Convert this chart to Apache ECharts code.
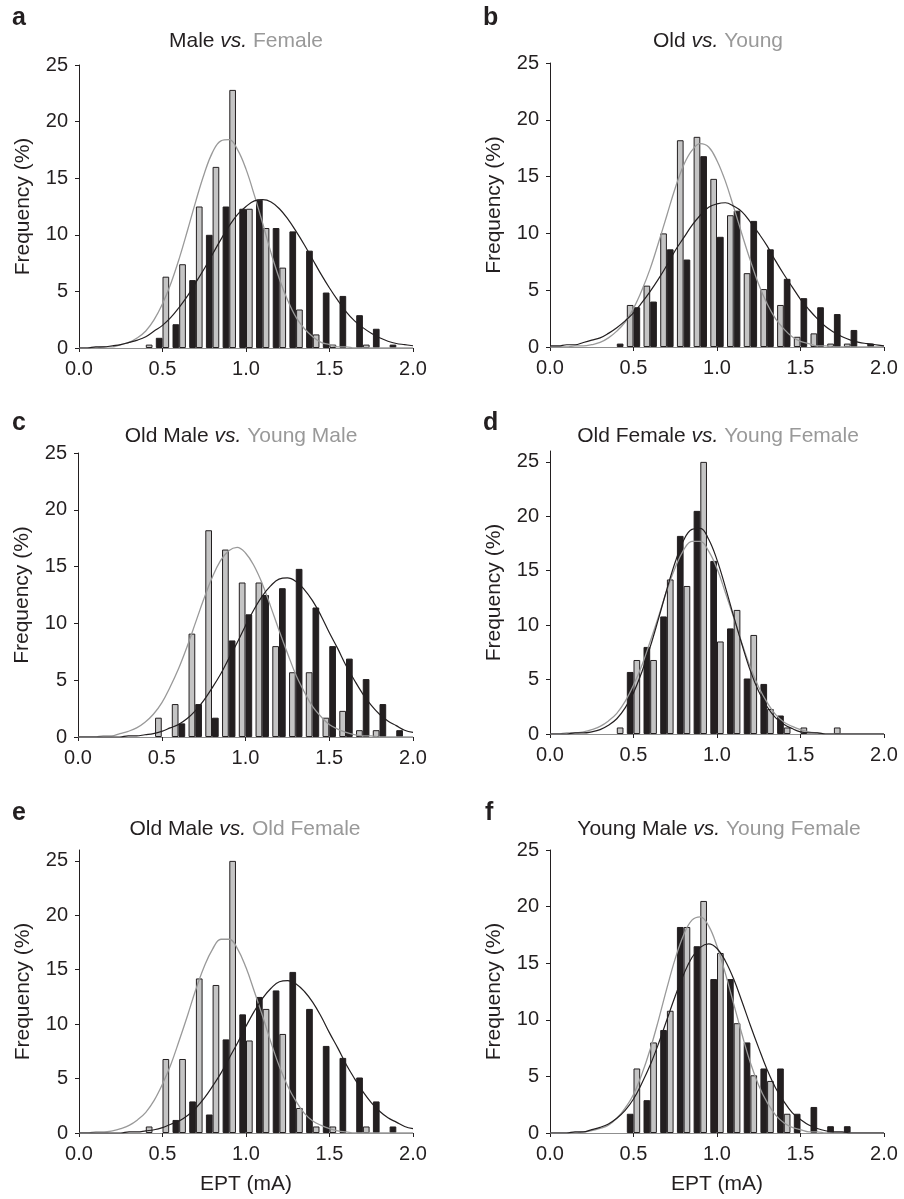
<!DOCTYPE html>
<html>
<head>
<meta charset="utf-8">
<title>EPT frequency distributions</title>
<script src="https://cdn.jsdelivr.net/npm/echarts@6/dist/echarts.min.js"></script>
<style>
  html, body { margin: 0; padding: 0; background: #ffffff; }
  #main { width: 904px; height: 1199px; }
</style>
</head>
<body>
<div id="main"></div>
<script>
// histogram bins, 0.1 mA wide (frequency in %)
const categories = ['0.0', '0.1', '0.2', '0.3', '0.4', '0.5', '0.6', '0.7', '0.8', '0.9', '1.0',
  '1.1', '1.2', '1.3', '1.4', '1.5', '1.6', '1.7', '1.8', '1.9', '2.0'];

const aBlack = [0, 0, 0, 0, 0, 0.9, 2.1, 6.0, 10.0, 12.5, 12.3, 13.1, 10.6, 10.3, 8.6, 4.9, 4.6, 2.9, 1.7, 0.3, 0];
const aGray = [0, 0, 0, 0, 0.3, 6.3, 7.4, 12.5, 16.0, 22.8, 12.3, 10.6, 7.1, 3.4, 1.2, 0.3, 0, 0.3, 0, 0, 0];
const bGray = [0, 0, 0, 0, 0, 3.7, 5.4, 10.0, 18.2, 18.5, 14.8, 11.6, 6.5, 5.1, 3.7, 0.9, 1.2, 0.3, 0.3, 0, 0];
const bBlack = [0, 0, 0, 0, 0.3, 3.5, 4.0, 8.6, 7.7, 16.8, 9.7, 12.0, 11.1, 8.6, 6.0, 4.3, 3.5, 2.9, 1.5, 0.3, 0];
const cGray = [0, 0, 0, 0, 0, 1.7, 2.9, 9.1, 18.2, 16.5, 13.6, 13.6, 8.0, 5.7, 5.7, 1.7, 2.3, 0.6, 0.6, 0, 0];
const cBlack = [0, 0, 0, 0, 0, 0, 1.2, 2.9, 1.7, 8.5, 10.8, 12.5, 13.1, 14.8, 11.4, 8.0, 6.9, 5.1, 2.9, 0.6, 0];
const dBlack = [0, 0, 0, 0, 0, 5.7, 8.0, 10.8, 18.2, 20.5, 15.9, 9.7, 5.1, 4.6, 1.7, 0, 0, 0, 0, 0, 0];
const dGray = [0, 0, 0, 0, 0.6, 6.8, 6.8, 14.2, 13.6, 25.0, 8.5, 11.4, 9.1, 2.3, 0.6, 0.6, 0, 0.6, 0, 0, 0];
const eBlack = [0, 0, 0, 0, 0, 0, 1.2, 2.9, 1.7, 8.6, 10.9, 12.5, 13.1, 14.8, 11.4, 8.0, 6.9, 5.1, 2.9, 0.6, 0];
const eGray = [0, 0, 0, 0, 0.6, 6.8, 6.8, 14.2, 13.6, 25.0, 8.5, 11.4, 9.1, 2.3, 0.6, 0.6, 0, 0.6, 0, 0, 0];
const fBlack = [0, 0, 0, 0, 0, 1.7, 2.9, 9.1, 18.2, 16.5, 13.6, 13.6, 8.0, 5.7, 5.7, 1.7, 2.3, 0.6, 0.6, 0, 0];
const fGray = [0, 0, 0, 0, 0, 5.7, 8.0, 10.8, 18.2, 20.5, 15.9, 9.7, 5.1, 4.6, 1.7, 0, 0, 0, 0, 0, 0];

// fitted curves, every 0.05 mA
const curveX = [0, 0.05, 0.1, 0.15, 0.2, 0.25, 0.3, 0.35, 0.4, 0.45, 0.5, 0.55, 0.6, 0.65, 0.7, 0.75,
  0.8, 0.85, 0.9, 0.95, 1.0, 1.05, 1.1, 1.15, 1.2, 1.25, 1.3, 1.35, 1.4, 1.45, 1.5, 1.55, 1.6, 1.65,
  1.7, 1.75, 1.8, 1.85, 1.9, 1.95, 2.0];

const aGrayCurve = [0, 0, 0, 0.1, 0.1, 0.3, 0.5, 0.9, 1.5, 2.5, 3.9, 5.7, 7.9, 10.4, 13.0, 15.4, 17.3, 18.3,
  18.4, 17.5, 15.8, 13.5, 11.0, 8.4, 6.1, 4.2, 2.7, 1.7, 1.0, 0.5, 0.3, 0.1, 0.1, 0, 0, 0, 0, 0, 0, 0, 0];
const aBlackCurve = [0, 0, 0.1, 0.1, 0.2, 0.3, 0.5, 0.7, 1.0, 1.5, 2.0, 2.7, 3.6, 4.6, 5.8, 7.0, 8.3, 9.6,
  10.8, 11.8, 12.5, 13.0, 13.1, 12.9, 12.3, 11.4, 10.3, 9.1, 7.8, 6.5, 5.3, 4.2, 3.2, 2.4, 1.8, 1.3, 0.9,
  0.6, 0.4, 0.3, 0.2];
const bGrayCurve = [0, 0, 0, 0.1, 0.1, 0.2, 0.4, 0.8, 1.4, 2.2, 3.4, 5.0, 6.9, 9.2, 11.6, 14.0, 16.0, 17.3,
  17.9, 17.6, 16.4, 14.6, 12.3, 9.9, 7.6, 5.5, 3.8, 2.5, 1.6, 0.9, 0.5, 0.3, 0.1, 0.1, 0, 0, 0, 0, 0, 0, 0];
const bBlackCurve = [0.1, 0.1, 0.2, 0.2, 0.4, 0.6, 0.8, 1.2, 1.7, 2.3, 3.0, 3.9, 4.9, 6.0, 7.2, 8.5, 9.6,
  10.7, 11.6, 12.3, 12.6, 12.7, 12.4, 11.9, 11.0, 10.0, 8.9, 7.6, 6.4, 5.3, 4.2, 3.3, 2.5, 1.8, 1.3, 0.9,
  0.6, 0.4, 0.3, 0.2, 0.1];
const cGrayCurve = [0, 0, 0, 0.1, 0.1, 0.3, 0.5, 0.8, 1.3, 2.0, 3.0, 4.4, 6.0, 7.9, 10.0, 12.1, 14.0, 15.5,
  16.4, 16.7, 16.2, 15.1, 13.5, 11.5, 9.4, 7.4, 5.5, 4.0, 2.7, 1.8, 1.1, 0.7, 0.4, 0.2, 0.1, 0.1, 0, 0, 0, 0, 0];
const cBlackCurve = [0, 0, 0, 0, 0, 0, 0.1, 0.1, 0.2, 0.3, 0.5, 0.8, 1.1, 1.6, 2.3, 3.2, 4.3, 5.5, 6.9, 8.3,
  9.8, 11.2, 12.4, 13.3, 13.9, 14.0, 13.7, 13.0, 12.0, 10.7, 9.2, 7.8, 6.3, 5.0, 3.8, 2.8, 2.0, 1.4, 1.0,
  0.6, 0.4];
const dBlackCurve = [0, 0, 0, 0.1, 0.1, 0.2, 0.4, 0.8, 1.4, 2.4, 3.8, 5.7, 8.0, 10.6, 13.3, 15.8, 17.8, 18.8,
  18.9, 17.9, 16.0, 13.5, 10.8, 8.2, 5.8, 3.9, 2.5, 1.5, 0.9, 0.5, 0.2, 0.1, 0.1, 0, 0, 0, 0, 0, 0, 0, 0];
const dGrayCurve = [0, 0, 0.1, 0.1, 0.2, 0.4, 0.7, 1.2, 1.9, 3.0, 4.5, 6.3, 8.5, 10.8, 13.2, 15.3, 16.9, 17.7,
  17.7, 16.8, 15.2, 13.0, 10.7, 8.3, 6.1, 4.3, 2.9, 1.8, 1.1, 0.7, 0.4, 0.2, 0.1, 0, 0, 0, 0, 0, 0, 0, 0];
const eGrayCurve = [0, 0, 0.1, 0.1, 0.2, 0.4, 0.7, 1.2, 1.9, 3.0, 4.5, 6.3, 8.5, 10.8, 13.2, 15.3, 16.9, 17.8,
  17.8, 16.9, 15.2, 13.0, 10.7, 8.3, 6.1, 4.3, 2.9, 1.8, 1.1, 0.7, 0.4, 0.2, 0.1, 0, 0, 0, 0, 0, 0, 0, 0];
const eBlackCurve = [0, 0, 0, 0, 0, 0, 0.1, 0.1, 0.2, 0.3, 0.5, 0.8, 1.1, 1.6, 2.3, 3.2, 4.3, 5.5, 6.9, 8.3,
  9.8, 11.2, 12.4, 13.3, 13.9, 14.0, 13.7, 13.0, 12.0, 10.7, 9.2, 7.8, 6.3, 5.0, 3.8, 2.8, 2.0, 1.4, 1.0,
  0.6, 0.4];
const fGrayCurve = [0, 0, 0, 0, 0.1, 0.2, 0.4, 0.7, 1.3, 2.2, 3.4, 5.2, 7.4, 10.0, 12.8, 15.4, 17.5, 18.8,
  19.1, 18.3, 16.5, 14.1, 11.4, 8.7, 6.2, 4.2, 2.7, 1.6, 0.9, 0.5, 0.3, 0.1, 0.1, 0, 0, 0, 0, 0, 0, 0, 0];
const fBlackCurve = [0, 0, 0, 0.1, 0.1, 0.3, 0.5, 0.8, 1.3, 2.0, 3.0, 4.4, 6.0, 7.9, 10.0, 12.1, 14.0, 15.5,
  16.4, 16.7, 16.3, 15.2, 13.6, 11.6, 9.5, 7.5, 5.6, 4.0, 2.8, 1.8, 1.2, 0.7, 0.4, 0.2, 0.1, 0.1, 0, 0, 0, 0, 0];

const yTicks = [0, 5, 10, 15, 20, 25];

const FONT = '"Liberation Sans", Arial, Helvetica, sans-serif';
const DARK = '#231f20';
const GRAY_FILL = '#c4c4c4';
const GRAY_LINE = '#999999';

// one entry per panel; grayFirst = grey bar on the left of each pair
const panels = [
  {letter: 'a', dark: 'Male', light: 'Female', grid: {left: 79, top: 65, width: 334, height: 283}, yMax: 25,
    black: aBlack, gray: aGray, blackCurve: aBlackCurve, grayCurve: aGrayCurve, grayFirst: false,
    titleX: 246, titleY: 41, letterX: 12, letterY: 18, xName: ''},
  {letter: 'b', dark: 'Old', light: 'Young', grid: {left: 550, top: 63, width: 334, height: 284}, yMax: 25,
    black: bBlack, gray: bGray, blackCurve: bBlackCurve, grayCurve: bGrayCurve, grayFirst: true,
    titleX: 718, titleY: 41, letterX: 483, letterY: 18, xName: ''},
  {letter: 'c', dark: 'Old Male', light: 'Young Male', grid: {left: 78, top: 453, width: 335, height: 284}, yMax: 25,
    black: cBlack, gray: cGray, blackCurve: cBlackCurve, grayCurve: cGrayCurve, grayFirst: true,
    titleX: 241, titleY: 436, letterX: 12, letterY: 423, xName: ''},
  {letter: 'd', dark: 'Old Female', light: 'Young Female', grid: {left: 550, top: 451, width: 334, height: 283}, yMax: 26,
    black: dBlack, gray: dGray, blackCurve: dBlackCurve, grayCurve: dGrayCurve, grayFirst: false,
    titleX: 718, titleY: 436, letterX: 483, letterY: 423, xName: ''},
  {letter: 'e', dark: 'Old Male', light: 'Old Female', grid: {left: 79, top: 850, width: 334, height: 283}, yMax: 26,
    black: eBlack, gray: eGray, blackCurve: eBlackCurve, grayCurve: eGrayCurve, grayFirst: false,
    titleX: 245, titleY: 829, letterX: 12, letterY: 813, xName: 'EPT (mA)'},
  {letter: 'f', dark: 'Young Male', light: 'Young Female', grid: {left: 550, top: 850, width: 334, height: 283}, yMax: 25,
    black: fBlack, gray: fGray, blackCurve: fBlackCurve, grayCurve: fGrayCurve, grayFirst: false,
    titleX: 719, titleY: 829, letterX: 485, letterY: 813, xName: 'EPT (mA)'}
];

const grids = [];
const xAxes = [];
const yAxes = [];
const series = [];
const graphics = [];

panels.forEach((p, i) => {
  grids.push(Object.assign({outerBoundsMode: 'none'}, p.grid));

  // hidden category axis carries the bars
  xAxes.push({
    type: 'category', gridIndex: i, data: categories, boundaryGap: false, position: 'top', show: false
  });
  // visible value axis, also used by the curves
  xAxes.push({
    type: 'value', gridIndex: i, min: 0, max: 2, interval: 0.5, position: 'bottom',
    axisLine: {show: true, onZero: false, lineStyle: {color: '#8f8f8f', width: 1}},
    axisTick: {show: true, length: 4, lineStyle: {color: DARK, width: 1}},
    axisLabel: {margin: 11, color: DARK, fontSize: 20, fontFamily: FONT, formatter: v => v.toFixed(1)},
    splitLine: {show: false},
    name: p.xName, nameLocation: 'middle', nameGap: 41,
    nameTextStyle: {color: DARK, fontSize: 21, fontFamily: FONT}
  });
  yAxes.push({
    type: 'value', gridIndex: i, min: 0, max: p.yMax,
    axisLine: {show: true, lineStyle: {color: DARK, width: 1}},
    axisTick: {show: true, length: 4, customValues: yTicks, lineStyle: {color: DARK, width: 1}},
    axisLabel: {margin: 11, color: DARK, fontSize: 20, fontFamily: FONT, customValues: yTicks},
    splitLine: {show: false},
    name: 'Frequency (%)', nameLocation: 'middle', nameGap: 45,
    nameTextStyle: {color: DARK, fontSize: 21, fontFamily: FONT}
  });

  const blackBars = {
    type: 'bar', name: p.dark, xAxisIndex: 2 * i, yAxisIndex: i,
    data: p.black.map(v => v === 0 ? '-' : v),
    barWidth: '40%', barGap: '0%',
    itemStyle: {color: DARK, borderColor: DARK, borderWidth: 1}
  };
  const grayBars = {
    type: 'bar', name: p.light, xAxisIndex: 2 * i, yAxisIndex: i,
    data: p.gray.map(v => v === 0 ? '-' : v),
    barWidth: '40%', barGap: '0%',
    itemStyle: {color: GRAY_FILL, borderColor: DARK, borderWidth: 1}
  };
  if (p.grayFirst) {
    series.push(grayBars, blackBars);
  } else {
    series.push(blackBars, grayBars);
  }

  series.push({
    type: 'line', xAxisIndex: 2 * i + 1, yAxisIndex: i, z: 5,
    data: curveX.map((x, k) => [x, p.grayCurve[k]]),
    smooth: 0.4, showSymbol: false, symbol: 'none',
    lineStyle: {color: GRAY_LINE, width: 1.3}
  });
  series.push({
    type: 'line', xAxisIndex: 2 * i + 1, yAxisIndex: i, z: 6,
    data: curveX.map((x, k) => [x, p.blackCurve[k]]),
    smooth: 0.4, showSymbol: false, symbol: 'none',
    lineStyle: {color: DARK, width: 1.2}
  });

  // panel title: dark group, italic "vs.", grey group
  graphics.push({
    type: 'text', x: p.titleX, y: p.titleY,
    style: {
      text: '{k|' + p.dark + ' }{i|vs.}{g| ' + p.light + '}',
      align: 'center', verticalAlign: 'middle',
      fontSize: 21, fontFamily: FONT,
      rich: {
        k: {fill: DARK, fontSize: 21, fontFamily: FONT},
        i: {fill: DARK, fontSize: 21, fontFamily: FONT, fontStyle: 'italic'},
        g: {fill: GRAY_LINE, fontSize: 21, fontFamily: FONT}
      }
    }
  });
  graphics.push({
    type: 'text', x: p.letterX, y: p.letterY,
    style: {
      text: p.letter, fill: DARK, fontSize: 25, fontWeight: 'bold', fontFamily: FONT,
      align: 'left', verticalAlign: 'middle'
    }
  });
});

const chart = echarts.init(document.getElementById('main'));
chart.setOption({
  animation: false,
  backgroundColor: '#ffffff',
  textStyle: {fontFamily: FONT},
  grid: grids,
  xAxis: xAxes,
  yAxis: yAxes,
  series: series,
  graphic: graphics
});
</script>
</body>
</html>
